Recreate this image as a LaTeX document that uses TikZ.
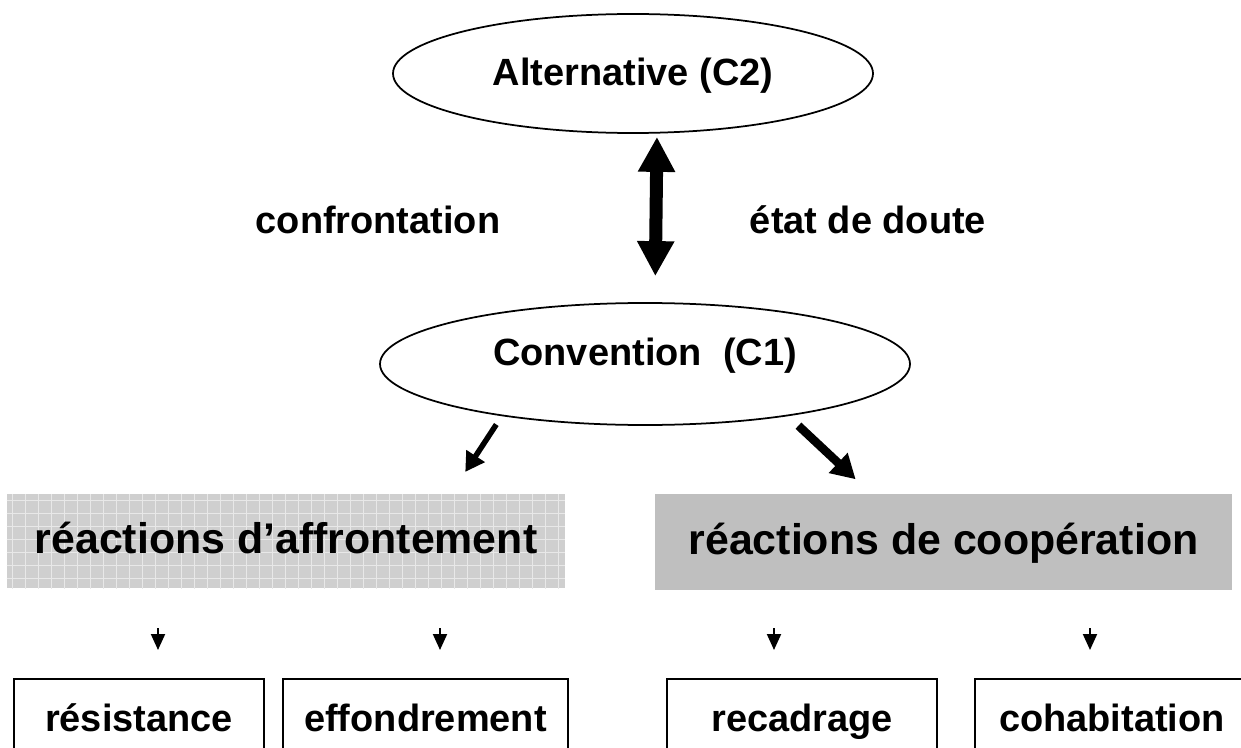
\documentclass[tikz,border=0pt]{standalone}
\usepackage{fontspec}
\setmainfont{Liberation Sans}
\usetikzlibrary{positioning,shapes.geometric,arrows.meta,patterns.meta}

\newcommand{\midsize}{\fontsize{21.6}{25}\selectfont\bfseries}
\newcommand{\bigsize}{\fontsize{24.4}{28}\selectfont\bfseries}

\begin{document}
\begin{tikzpicture}[bubble/.style={ellipse, draw, line width=0.035cm, inner sep=0pt, text height=0.55cm, font=\midsize},
  greybox/.style={rectangle, inner sep=0pt, text height=0.6cm, text depth=0.12cm, font=\bigsize},
  leafbox/.style={rectangle, draw, line width=0.04cm, inner sep=0pt, anchor=north, minimum height=1.8cm, text height=0.55cm, text depth=0.27cm, font=\midsize},
  sidelabel/.style={anchor=base, font=\midsize},
  twoway/.style={line width=0.26cm, {Triangle[width=0.7cm,length=0.7cm]}-{Triangle[width=0.7cm,length=0.7cm]}},
  tick/.style={line width=0.04cm, -{Triangle[width=0.28cm,length=0.32cm]}}]
\useasboundingbox (0,0) rectangle (24.82,14.94);

\node[bubble, minimum width=9.6cm, minimum height=2.38cm, text depth=0.05cm] (alt) at (12.66, 13.47) {Alternative (C2)};
\node[bubble, minimum width=10.6cm, minimum height=2.44cm, text depth=0.51cm] (conv) at (12.90, 7.66) {Convention~~(C1)};

\node[sidelabel] (confr) at (7.56, 10.28) {confrontation};
\node[sidelabel] (doute) at (17.36, 10.28) {état de doute};

\node[greybox, minimum width=11.16cm, minimum height=1.88cm, fill=black!19,
  postaction={pattern={Hatch[angle=0,distance=0.26cm,line width=0.014cm]}, pattern color=black!9}] (aff) at (5.72, 4.12) {réactions d’affrontement};
\node[greybox, minimum width=11.54cm, minimum height=1.92cm, fill=black!25] (coop) at (18.87, 4.10) {réactions de coopération};

\node[leafbox, minimum width=5.0cm] (res) at (2.78, 1.38) {résistance};
\node[leafbox, minimum width=5.7cm] (eff) at (8.51, 1.38) {effondrement};
\node[leafbox, minimum width=5.4cm] (rec) at (16.04, 1.38) {recadrage};
\node[leafbox, minimum width=5.5cm] (coh) at (22.24, 1.38) {cohabitation};

\draw[twoway, shorten <=0.06cm, shorten >=0.52cm] ([xshift=0.48cm]alt.south) -- ([xshift=0.2cm]conv.north);

\draw[line width=0.11cm, -{Triangle[width=0.42cm,length=0.38cm]}, shorten <=0.2cm, shorten >=0.52cm] (conv.200) -- ([xshift=3.3cm]aff.north);
\draw[line width=0.17cm, -{Triangle[width=0.52cm,length=0.48cm]}, shorten <=0.28cm, shorten >=0.42cm] (conv.340) -- ([xshift=-1.45cm]coop.north);

\draw[tick, shorten <=0.8cm, shorten >=0.56cm] ([xshift=0.38cm]aff.south -| res.north) -- ([xshift=0.38cm]res.north);
\draw[tick, shorten <=0.8cm, shorten >=0.56cm] ([xshift=0.29cm]aff.south -| eff.north) -- ([xshift=0.29cm]eff.north);
\draw[tick, shorten <=0.76cm, shorten >=0.56cm] ([xshift=-0.56cm]coop.south -| rec.north) -- ([xshift=-0.56cm]rec.north);
\draw[tick, shorten <=0.76cm, shorten >=0.56cm] ([xshift=-0.44cm]coop.south -| coh.north) -- ([xshift=-0.44cm]coh.north);

\end{tikzpicture}
\end{document}
